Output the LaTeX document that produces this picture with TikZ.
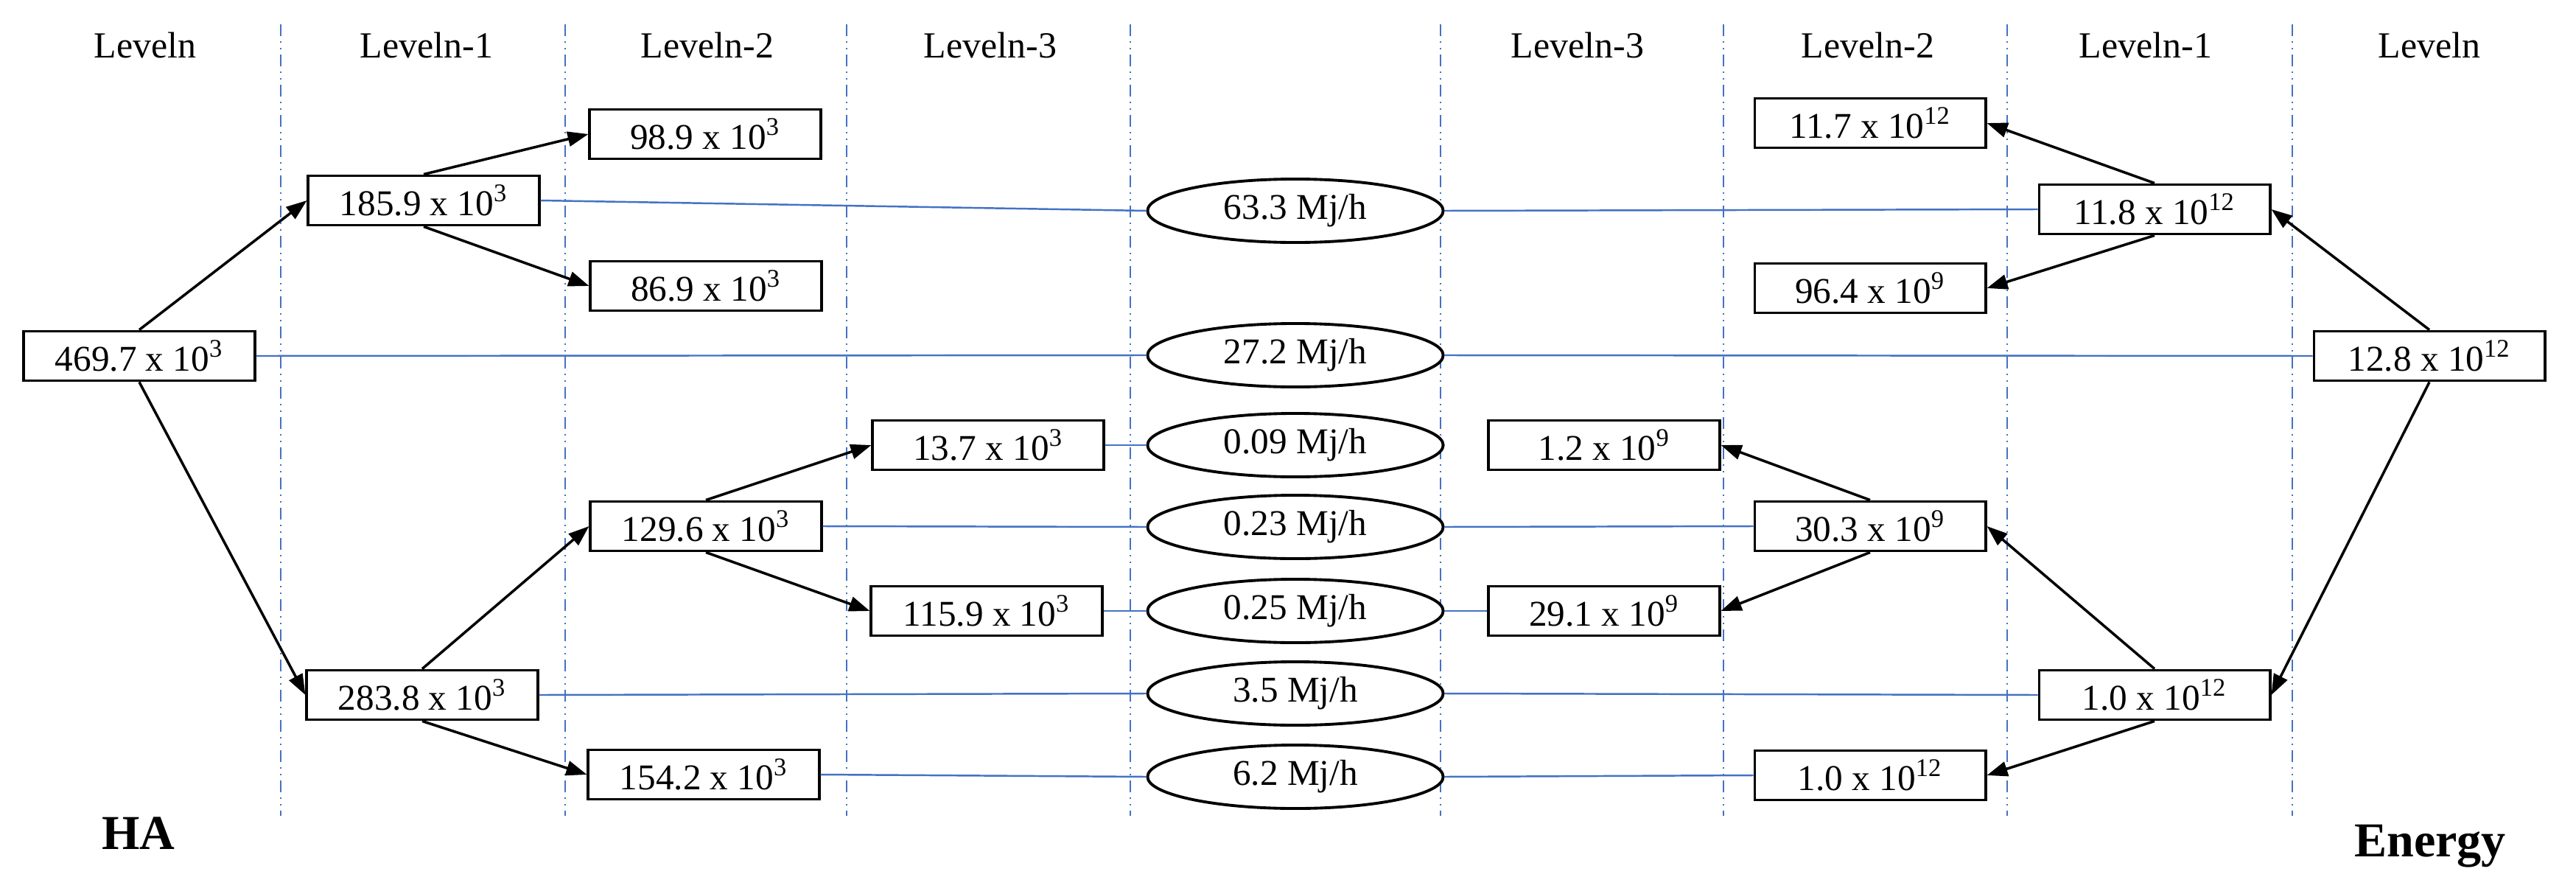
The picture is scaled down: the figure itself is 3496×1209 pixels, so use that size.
\documentclass[tikz,border=0pt]{standalone}
\usepackage{fontspec}
\setmainfont{Liberation Serif}
\usetikzlibrary{arrows.meta,shapes.geometric}
\definecolor{lineblue}{HTML}{4472C4}
\begin{document}
\begin{tikzpicture}[x=0.01cm,y=-0.01cm,
  valbox/.style={draw,line width=1.1pt,minimum width=3.13cm,minimum height=0.67cm,inner sep=0pt,font=\fontsize{14}{16}\selectfont,fill=white},
  valell/.style={ellipse,draw,line width=1.1pt,minimum width=4.01cm,minimum height=0.86cm,inner sep=0pt,font=\fontsize{14}{16}\selectfont,fill=white},
  lvl/.style={font=\fontsize{14.2}{16}\selectfont,inner sep=0pt},
  side/.style={font=\fontsize{18.8}{22}\bfseries\selectfont,inner sep=0pt},
  flow/.style={line width=1pt,-{Triangle[length=0.28cm,width=0.2cm]}},
  link/.style={lineblue,line width=0.7pt},
  sep/.style={lineblue,line width=0.45pt,dash pattern=on 0.16cm off 0.07cm on 0.02cm off 0.07cm on 0.02cm off 0.07cm}]
\useasboundingbox (0,0) rectangle (3496,1209);

% column separators
\foreach \xx [count=\i] in {381,767,1149,1534,1955,2339,2724,3111}
  {\coordinate (st\i) at (\xx,33); \coordinate (sb\i) at (\xx,1107);
   \draw[sep] (st\i) -- (sb\i);}

% level labels
\node[lvl] (l1) at (197,61) {Leveln};
\node[lvl] (l2) at (579,61) {Leveln-1};
\node[lvl] (l3) at (960,61) {Leveln-2};
\node[lvl] (l4) at (1344,61) {Leveln-3};
\node[lvl] (l5) at (2141,61) {Leveln-3};
\node[lvl] (l6) at (2535,61) {Leveln-2};
\node[lvl] (l7) at (2912,61) {Leveln-1};
\node[lvl] (l8) at (3297,61) {Leveln};

% left boxes
\node[valbox] (a469) at (189,483) {469.7 x 10\textsuperscript{3}};
\node[valbox] (a185) at (575,272) {185.9 x 10\textsuperscript{3}};
\node[valbox] (a98)  at (957,182) {98.9 x 10\textsuperscript{3}};
\node[valbox] (a86)  at (958,388) {86.9 x 10\textsuperscript{3}};
\node[valbox] (a283) at (573,943) {283.8 x 10\textsuperscript{3}};
\node[valbox] (a129) at (958,714) {129.6 x 10\textsuperscript{3}};
\node[valbox] (a154) at (955,1051) {154.2 x 10\textsuperscript{3}};
\node[valbox] (a13)  at (1341,604) {13.7 x 10\textsuperscript{3}};
\node[valbox] (a115) at (1339,829) {115.9 x 10\textsuperscript{3}};

% ellipses
\node[valell] (e63)  at (1758,286) {63.3 Mj/h};
\node[valell] (e27)  at (1758,482) {27.2 Mj/h};
\node[valell] (e009) at (1758,604) {0.09 Mj/h};
\node[valell] (e023) at (1758,715) {0.23 Mj/h};
\node[valell] (e025) at (1758,829) {0.25 Mj/h};
\node[valell] (e35)  at (1758,941) {3.5 Mj/h};
\node[valell] (e62)  at (1758,1054) {6.2 Mj/h};

% right boxes
\node[valbox] (r117) at (2538,167) {11.7 x 10\textsuperscript{12}};
\node[valbox] (r118) at (2924,284) {11.8 x 10\textsuperscript{12}};
\node[valbox] (r964) at (2538,391) {96.4 x 10\textsuperscript{9}};
\node[valbox] (r128) at (3297,483) {12.8 x 10\textsuperscript{12}};
\node[valbox] (r12)  at (2177,604) {1.2 x 10\textsuperscript{9}};
\node[valbox] (r303) at (2538,714) {30.3 x 10\textsuperscript{9}};
\node[valbox] (r291) at (2177,829) {29.1 x 10\textsuperscript{9}};
\node[valbox] (r10a) at (2924,943) {1.0 x 10\textsuperscript{12}};
\node[valbox] (r10b) at (2538,1052) {1.0 x 10\textsuperscript{12}};

% side labels
\node[side] (ha) at (188,1131) {HA};
\node[side,anchor=base] (en) at (3298,1162) {Energy};

% blue links
\draw[link] (a185.east) -- (e63.west);
\draw[link] (e63.east) -- (r118.west);
\draw[link] (a469.east) -- (e27.west);
\draw[link] (e27.east) -- (r128.west);
\draw[link] (a13.east) -- (e009.west);
\draw[link] (a129.east) -- (e023.west);
\draw[link] (e023.east) -- (r303.west);
\draw[link] (a115.east) -- (e025.west);
\draw[link] (e025.east) -- (r291.west);
\draw[link] (a283.east) -- (e35.west);
\draw[link] (e35.east) -- (r10a.west);
\draw[link] (a154.east) -- (e62.west);
\draw[link] (e62.east) -- (r10b.west);

% arrows left
\draw[flow] (a469.north) -- (a185.west);
\draw[flow] (a469.south) -- (a283.west);
\draw[flow] (a185.north) -- (a98.west);
\draw[flow] (a185.south) -- (a86.west);
\draw[flow] (a283.north) -- (a129.west);
\draw[flow] (a283.south) -- (a154.west);
\draw[flow] (a129.north) -- (a13.west);
\draw[flow] (a129.south) -- (a115.west);

% arrows right
\draw[flow] (r128.north) -- (r118.east);
\draw[flow] (r128.south) -- (r10a.east);
\draw[flow] (r118.north) -- (r117.east);
\draw[flow] (r118.south) -- (r964.east);
\draw[flow] (r10a.north) -- (r303.east);
\draw[flow] (r10a.south) -- (r10b.east);
\draw[flow] (r303.north) -- (r12.east);
\draw[flow] (r303.south) -- (r291.east);
\end{tikzpicture}
\end{document}
